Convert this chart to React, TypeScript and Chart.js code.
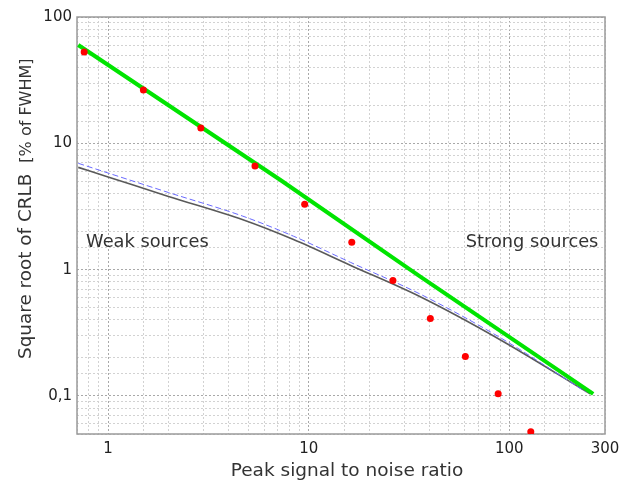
import React, { useEffect, useRef } from "react";
import { Chart, registerables } from "chart.js";

Chart.register(...registerables);

// Red points (simulation results)
const redX = [0.76, 1.5, 2.9, 5.4, 9.55, 16.4, 26.3, 40.4, 60.4, 88, 128];
const redY = [52.8, 26.4, 13.2, 6.6, 3.3, 1.65, 0.82, 0.41, 0.205, 0.104, 0.052];

// Green thick line
const greenX = [0.71, 7.26, 36, 262];
const greenY = [60, 5.1, 0.88, 0.104];

// Gray solid line
const grayX = [0.71, 1, 2, 4.7, 8.4, 16.2, 36, 90, 253];
const grayY = [6.45, 5.42, 3.8, 2.48, 1.73, 1.08, 0.61, 0.279, 0.104];

// Blue dashed line
const blueX = [0.71, 1, 2, 4.7, 8.4, 16.2, 36, 90, 240];
const blueY = [6.95, 5.82, 4.08, 2.65, 1.84, 1.14, 0.64, 0.29, 0.108];

const xTickValues = [1, 10, 100, 300];
const xTickLabels = ["1", "10", "100", "300"];
const yTickValues = [0.1, 1, 10, 100];
const yTickLabels = ["0,1", "1", "10", "100"];

const xTitle = "Peak signal to noise ratio";
const yTitleMain = "Square root of CRLB";
const yTitleSub = "[% of FWHM]";
const weakLabel = "Weak sources";
const strongLabel = "Strong sources";

const zip = (xs: number[], ys: number[]) => xs.map((x, i) => ({ x, y: ys[i] }));

const matchLabel = (v: number, vals: number[], labels: string[]) => {
  for (let i = 0; i < vals.length; i++) {
    if (Math.abs(v - vals[i]) / vals[i] < 1e-6) return labels[i];
  }
  return "";
};

const isMajor = (v: number) => {
  const l = Math.log10(v);
  return Math.abs(l - Math.round(l)) < 1e-6;
};

const decorPlugin = {
  id: "decor",
  beforeDatasetsDraw(chart: any) {
    const { ctx, chartArea: ca } = chart;
    ctx.save();
    ctx.strokeStyle = "#9a9a9a";
    ctx.lineWidth = 1.5;
    ctx.strokeRect(ca.left, ca.top, ca.right - ca.left, ca.bottom - ca.top);
    ctx.restore();
  },
  afterDraw(chart: any) {
    const { ctx, chartArea: ca, scales } = chart;
    ctx.save();
    // x title
    ctx.fillStyle = "#333";
    ctx.font = '18.5px "DejaVu Sans"';
    ctx.textAlign = "center";
    ctx.textBaseline = "middle";
    ctx.fillText(xTitle, (ca.left + ca.right) / 2 + 6, 471);

    // annotations
    ctx.font = '17.8px "DejaVu Sans"';
    ctx.textAlign = "left";
    ctx.fillText(weakLabel, scales.x.getPixelForValue(0.777), scales.y.getPixelForValue(1.64));
    ctx.textAlign = "right";
    ctx.fillText(strongLabel, scales.x.getPixelForValue(278), scales.y.getPixelForValue(1.64));

    // y title
    ctx.translate(26, 359);
    ctx.rotate(-Math.PI / 2);
    ctx.textAlign = "left";
    ctx.font = '18.4px "DejaVu Sans"';
    ctx.fillText(yTitleMain, 0, 0);
    const w = ctx.measureText(yTitleMain).width;
    ctx.font = '16px "DejaVu Sans"';
    ctx.fillText(yTitleSub, w + 11, 1);
    ctx.restore();
  },
};

export default function App() {
  const canvasRef = useRef<HTMLCanvasElement | null>(null);

  useEffect(() => {
    const canvas = canvasRef.current;
    if (!canvas) return;
    const gridColor = (c: any) => (c.tick && isMajor(c.tick.value) ? "#a8a8a8" : "#d2d2d2");
    const chart = new Chart(canvas, {
      type: "scatter",
      data: {
        datasets: [
          {
            label: "points",
            data: zip(redX, redY),
            showLine: false,
            pointRadius: 3.5,
            pointBackgroundColor: "#ff0000",
            pointBorderWidth: 0,
          },
          {
            label: "green",
            data: zip(greenX, greenY),
            showLine: true,
            borderColor: "#00e400",
            borderWidth: 4,
            pointRadius: 0,
          },
          {
            label: "blue",
            data: zip(blueX, blueY),
            showLine: true,
            borderColor: "#6a6aff",
            borderWidth: 1,
            borderDash: [6, 3],
            pointRadius: 0,
            cubicInterpolationMode: "monotone",
          },
          {
            label: "gray",
            data: zip(grayX, grayY),
            showLine: true,
            borderColor: "#5a5a5a",
            borderWidth: 1.6,
            pointRadius: 0,
            cubicInterpolationMode: "monotone",
          },
        ],
      },
      options: {
        responsive: false,
        animation: false,
        layout: { padding: { top: 17, right: 38, left: 0, bottom: 0 } },
        plugins: { legend: { display: false }, tooltip: { enabled: false } },
        scales: {
          x: {
            type: "logarithmic",
            min: 0.7,
            max: 300,
            afterFit: (s: any) => {
              s.height = 46;
            },
            grid: { color: gridColor, lineWidth: 1, drawTicks: false },
            border: { display: false, dash: [2, 2] },
            ticks: {
              autoSkip: false,
              maxRotation: 0,
              padding: 6,
              color: "#222",
              font: { family: "DejaVu Sans", size: 15 },
              callback: (v: any) => matchLabel(Number(v), xTickValues, xTickLabels),
            },
          },
          y: {
            type: "logarithmic",
            min: 0.05,
            max: 100,
            afterFit: (s: any) => {
              s.width = 77;
            },
            grid: { color: gridColor, lineWidth: 1, drawTicks: false },
            border: { display: false, dash: [2, 2] },
            ticks: {
              autoSkip: false,
              padding: 5,
              color: "#222",
              font: { family: "DejaVu Sans", size: 15 },
              callback: (v: any) => matchLabel(Number(v), yTickValues, yTickLabels),
            },
          },
        },
      },
      plugins: [decorPlugin],
    });
    return () => chart.destroy();
  }, []);

  return (
    <div style={{ position: "fixed", left: 0, top: 0, width: 643, height: 480, background: "#fff" }}>
      <canvas ref={canvasRef} width={643} height={480} />
    </div>
  );
}
